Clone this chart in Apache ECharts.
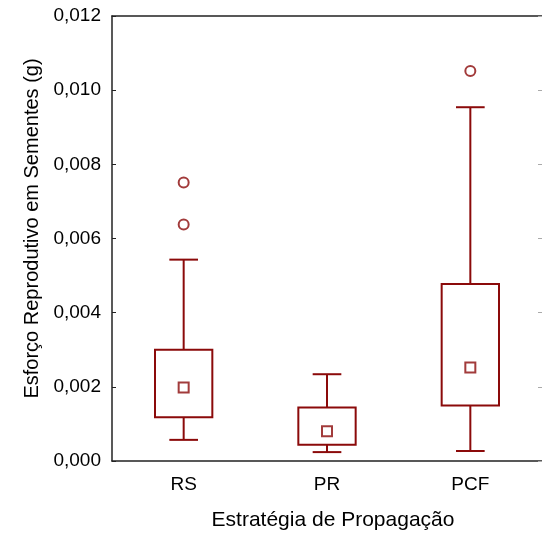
<!DOCTYPE html>
<html>
<head>
<meta charset="utf-8">
<script src="https://cdn.jsdelivr.net/npm/echarts@6/dist/echarts.min.js"></script>
<style>html,body{margin:0;padding:0;background:#fff;}#c{width:542px;height:536px;}</style>
</head>
<body>
<div id="c"></div>
<script>
var categories = ['RS', 'PR', 'PCF'];
var whiskerMin = [0.00057, 0.00024, 0.00027];
var q1 = [0.00118, 0.00044, 0.00150];
var medians = [0.00198, 0.00080, 0.00252];
var q3 = [0.00300, 0.00144, 0.00477];
var whiskerMax = [0.00543, 0.00234, 0.00954];
var outliers = [[0, 0.00751], [0, 0.00638], [2, 0.01052]];
var yTicks = { min: 0, max: 0.012, interval: 0.002 };

var RED = '#8b0a0a';
var FONT = 'Liberation Sans, Arial, sans-serif';

var boxData = categories.map(function (c, i) {
  return [i, whiskerMin[i], q1[i], medians[i], q3[i], whiskerMax[i]];
});
var medianData = categories.map(function (c, i) { return [i, medians[i]]; });

var chart = echarts.init(document.getElementById('c'), null, { renderer: 'canvas' });
var fmt = function (v) { return v.toFixed(3).replace('.', ','); };

chart.setOption({
  animation: false,
  backgroundColor: '#fff',
  grid: { left: 112, top: 16, width: 433.5, height: 447 },
  xAxis: [{
    type: 'category', data: categories, position: 'bottom',
    axisLine: { onZero: false, lineStyle: { color: '#222', width: 1.5 } },
    axisTick: { inside: true, length: 4, alignWithLabel: true, lineStyle: { color: '#222' } },
    axisLabel: { color: '#000', fontSize: 19, fontFamily: FONT, margin: 14 },
    name: 'Estratégia de Propagação', nameLocation: 'middle', nameGap: 49,
    nameTextStyle: { color: '#000', fontSize: 21, fontFamily: FONT, padding: [0, 0, 0, 12] },
    splitLine: { show: false }
  }, {
    type: 'category', data: categories, position: 'top',
    axisLine: { onZero: false, lineStyle: { color: '#222', width: 1.5 } },
    axisTick: { inside: true, length: 4, alignWithLabel: true, lineStyle: { color: '#222' } },
    axisLabel: { show: false }, splitLine: { show: false }
  }],
  yAxis: [{
    type: 'value', min: yTicks.min, max: yTicks.max, interval: yTicks.interval,
    axisLine: { show: true, onZero: false, lineStyle: { color: '#222', width: 1.5 } },
    axisTick: { show: true, inside: true, length: 4, lineStyle: { color: '#222' } },
    axisLabel: { color: '#000', fontSize: 19, fontFamily: FONT, margin: 11, formatter: fmt },
    splitLine: { show: false },
    name: 'Esforço Reprodutivo em Sementes (g)', nameLocation: 'middle', nameGap: 69,
    nameTextStyle: { color: '#000', fontSize: 20, fontFamily: FONT, padding: [0, 0, 0, 20] }
  }, {
    type: 'value', position: 'right', min: yTicks.min, max: yTicks.max, interval: yTicks.interval,
    axisLine: { show: false, onZero: false },
    axisTick: { show: true, inside: true, length: 4, lineStyle: { color: '#aaa' } },
    axisLabel: { show: false }, splitLine: { show: false }
  }],
  series: [{
    type: 'custom',
    data: boxData,
    encode: { x: 0, y: [1, 2, 3, 4, 5] },
    renderItem: function (params, api) {
      var i = api.value(0);
      var band = api.size([1, 0])[0];
      var bw = band * 0.40, cw = band * 0.20;
      var pMin = api.coord([i, api.value(1)]);
      var pQ1 = api.coord([i, api.value(2)]);
      var pQ3 = api.coord([i, api.value(4)]);
      var pMax = api.coord([i, api.value(5)]);
      var x = pMin[0];
      var st = { stroke: RED, lineWidth: 2, fill: null };
      return {
        type: 'group',
        children: [
          { type: 'line', shape: { x1: x, y1: pQ3[1], x2: x, y2: pMax[1] }, style: st },
          { type: 'line', shape: { x1: x - cw / 2, y1: pMax[1], x2: x + cw / 2, y2: pMax[1] }, style: st },
          { type: 'line', shape: { x1: x, y1: pQ1[1], x2: x, y2: pMin[1] }, style: st },
          { type: 'line', shape: { x1: x - cw / 2, y1: pMin[1], x2: x + cw / 2, y2: pMin[1] }, style: st },
          { type: 'rect', shape: { x: x - bw / 2, y: pQ3[1], width: bw, height: pQ1[1] - pQ3[1] },
            style: { stroke: RED, lineWidth: 2, fill: '#fff' } }
        ]
      };
    },
    z: 2
  }, {
    type: 'scatter', data: medianData, symbol: 'rect', symbolSize: 10,
    itemStyle: { color: '#fff', borderColor: RED, borderWidth: 2 }, z: 3
  }, {
    type: 'scatter', data: outliers, symbol: 'circle', symbolSize: 10,
    itemStyle: { color: '#fff', borderColor: RED, borderWidth: 2 }, z: 3
  }]
});
</script>
</body>
</html>
